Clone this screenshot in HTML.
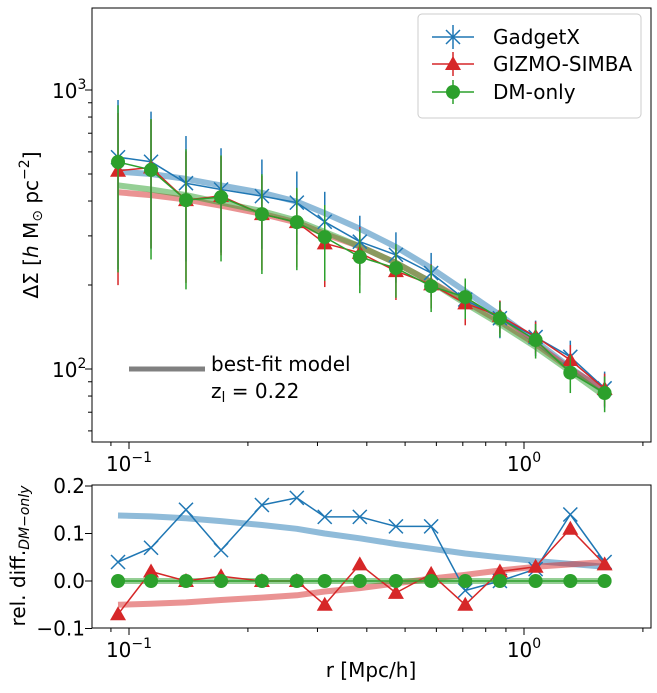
<!DOCTYPE html>
<html><head><meta charset="utf-8"><style>
body{margin:0;background:#fff}
svg{font-family:"DejaVu Sans","Liberation Sans",sans-serif}
</style></head><body>
<svg id="c" width="657" height="688" xmlns="http://www.w3.org/2000/svg"></svg>
<script>
const radii=[0.0938,0.1137,0.1394,0.171,0.217,0.266,0.313,0.384,0.474,0.582,0.71,0.869,1.07,1.31,1.60];
const dmOnly=[552,517,403,413,359,336,297,252,230,198,181,152,127,97,82];
const relGadget=[0.04,0.07,0.15,0.065,0.16,0.175,0.135,0.135,0.115,0.115,-0.02,0.0,0.025,0.14,0.04];
const relGizmo=[-0.07,0.02,0,0.01,0,0,-0.05,0.035,-0.025,0.015,-0.05,0.02,0.03,0.11,0.035];
const errDM=[330,270,210,170,140,110,90,65,50,38,30,22,18,15,12];
const modelGadget=[510,500,480,455,428,398,362,318,274,230,190,156,126,101,83];
const modelGizmo=[430,420,405,385,360,335,305,275,240,205,175,148,123,100,84];
const modelDM=[455,440,420,395,368,340,310,275,240,205,172,145,120,98,80];
const relModelGadget=[0.138,0.136,0.132,0.126,0.118,0.11,0.1,0.09,0.078,0.068,0.058,0.05,0.042,0.036,0.03];
const relModelGizmo=[-0.05,-0.048,-0.045,-0.04,-0.035,-0.03,-0.022,-0.015,-0.005,0.005,0.013,0.022,0.03,0.035,0.04];
const yTicksRel=[-0.1,0.0,0.1,0.2];

const NS="http://www.w3.org/2000/svg",svg=document.getElementById('c');
function mk(t,a,p){const e=document.createElementNS(NS,t);for(const k in a)e.setAttribute(k,a[k]);(p||svg).appendChild(e);return e;}
const L=92,R=651,T1=8,B1=442,T2=485,B2=628;
const X=r=>129+(Math.log10(r)+1)*395;
const Y1=v=>369-(Math.log10(v)-2)*279;
const Y2=v=>581-v*475;
const gadget=dmOnly.map((d,i)=>d*(1+relGadget[i]));
const gizmo=dmOnly.map((d,i)=>d*(1+relGizmo[i]));
const errG=errDM.map(e=>e*1.05), errZ=errDM.map(e=>e*0.95);
const C={b:'#1f77b4',r:'#d62728',g:'#2ca02c'};
function line(xs,ys,col,w,op,name){const d=xs.map((x,i)=>(i?'L':'M')+x.toFixed(1)+','+ys[i].toFixed(1)).join('');const p=mk('path',{d,fill:'none',stroke:col,'stroke-width':w,'stroke-opacity':op,'stroke-linejoin':'round'});return p;}
function marker(type,x,y,col,g){
 if(type==='x'){mk('path',{d:`M${x-7},${y-7}L${x+7},${y+7}M${x-7},${y+7}L${x+7},${y-7}`,stroke:col,'stroke-width':1.5},g);}
 else if(type==='t'){mk('path',{d:`M${x},${y-8}L${x+8},${y+6}L${x-8},${y+6}Z`,fill:col},g);}
 else mk('circle',{cx:x,cy:y,r:7,fill:col},g);
}
const defs=mk('defs',{});
const c1=mk('clipPath',{id:'c1'},defs);mk('rect',{x:L,y:T1,width:R-L,height:B1-T1},c1);
const c2=mk('clipPath',{id:'c2'},defs);mk('rect',{x:L,y:T2,width:R-L,height:B2-T2},c2);
const xs=radii.map(X);
const g1=mk('g',{'clip-path':'url(#c1)'});
[[modelGadget,C.b,'model-gadgetx'],[modelGizmo,C.r,'model-gizmo'],[modelDM,C.g,'model-dm']].forEach(([m,c,n])=>g1.appendChild(line(xs,m.map(Y1),c,6,0.5,n)));
[[gadget,errG,C.b,'x','gadgetx'],[gizmo,errZ,C.r,'t','gizmo-simba'],[dmOnly,errDM,C.g,'o','dm-only']].forEach(([v,e,c,t,n])=>{
 const g=mk('g',{},g1);
 v.forEach((val,i)=>{mk('line',{x1:xs[i],x2:xs[i],y1:Y1(val+e[i]),y2:Y1(Math.max(val-e[i],1)),stroke:c,'stroke-width':1.5},g);});
 g.appendChild(line(xs,v.map(Y1),c,1.5,1,'line-'+n));
 v.forEach((val,i)=>marker(t,xs[i],Y1(val),c,g));
});
const g2=mk('g',{'clip-path':'url(#c2)'});
g2.appendChild(line(xs,relModelGadget.map(Y2),C.b,6,0.5,'rel-model-gadgetx'));
g2.appendChild(line(xs,relModelGizmo.map(Y2),C.r,6,0.5,'rel-model-gizmo'));
g2.appendChild(line(xs,radii.map(()=>Y2(0)),C.g,6,0.5,'rel-model-dm'));
[[relGadget,C.b,'x','gadgetx'],[relGizmo,C.r,'t','gizmo'],[radii.map(()=>0),C.g,'o','dm']].forEach(([v,c,t,n])=>{
 const g=mk('g',{},g2);
 g.appendChild(line(xs,v.map(Y2),c,1.5,1,'rel-line-'+n));
 v.forEach((val,i)=>marker(t,xs[i],Y2(val),c,g));
});
[[T1,B1,'top-axes-frame'],[T2,B2,'bottom-axes-frame']].forEach(([t,b,n])=>{const r=mk('rect',{x:L,y:t,width:R-L,height:b-t,fill:'none',stroke:'#000','stroke-width':1});});
function txt(x,y,s,o){const e=mk('text',Object.assign({x,y,'font-size':20,fill:'#000'},o||{}));e.innerHTML=s;return e;}
[[B1],[B2]].forEach(([b])=>{
 for(let d=-2;d<=0;d++)for(let k=1;k<10;k++){const r=k*Math.pow(10,d),x=X(r);if(x<L||x>R)continue;mk('line',{x1:x,x2:x,y1:b,y2:b+(k===1?7:4),stroke:'#000'});}
 txt(X(0.1),b+29,'10<tspan dy="-9" font-size="14">−1</tspan>',{'text-anchor':'middle'});
 txt(X(1),b+29,'10<tspan dy="-9" font-size="14">0</tspan>',{'text-anchor':'middle'});
});
for(let d=1;d<=3;d++)for(let k=1;k<10;k++){const v=k*Math.pow(10,d),y=Y1(v);if(y<T1||y>B1)continue;mk('line',{x1:L,x2:L-(k===1?7:4),y1:y,y2:y,stroke:'#000'});}
txt(52,Y1(1000)+8,'10<tspan dy="-9" font-size="14">3</tspan>');
txt(52,Y1(100)+8,'10<tspan dy="-9" font-size="14">2</tspan>');
yTicksRel.forEach(v=>{const y=Y2(v);mk('line',{x1:L,x2:L-7,y1:y,y2:y,stroke:'#000'});const t=txt(85,y+7,v.toFixed(1).replace('-','−'),{'text-anchor':'end'});});
const yl=txt(0,0,'ΔΣ [<tspan font-style="italic">h</tspan> M<tspan font-size="14" dy="4">⊙</tspan><tspan dy="-4"> pc</tspan><tspan dy="-9" font-size="14">−2</tspan><tspan dy="9">]</tspan>',{transform:'translate(38,225) rotate(-90)','text-anchor':'middle'});
const yl2=txt(0,0,'rel. diff.<tspan font-size="14" dy="4" font-style="italic">DM−only</tspan>',{transform:'translate(25,556) rotate(-90)','text-anchor':'middle'});
txt(371,677,'r [Mpc/h]',{'text-anchor':'middle'});
mk('line',{x1:129,x2:205,y1:369,y2:369,stroke:'#808080','stroke-width':5});
txt(211,371,'best-fit model');
txt(211,398,'z<tspan font-size="14" dy="4">l</tspan><tspan dy="-4"> = 0.22</tspan>');
const lg=mk('g',{});
mk('rect',{x:418,y:14,width:223,height:104,rx:4,fill:'#fff','fill-opacity':0.8,stroke:'#ccc'},lg);
[['GadgetX',C.b,'x',37],['GIZMO-SIMBA',C.r,'t',64],['DM-only',C.g,'o',92]].forEach(([n,c,t,y])=>{
 mk('line',{x1:432,x2:474,y1:y,y2:y,stroke:c,'stroke-width':1.5},lg);
 mk('line',{x1:453,x2:453,y1:y-12,y2:y+12,stroke:c,'stroke-width':1.5},lg);
 marker(t,453,y,c,lg);
 const e=txt(493,y+7,n);lg.appendChild(e);
});
</script>
</body></html>
